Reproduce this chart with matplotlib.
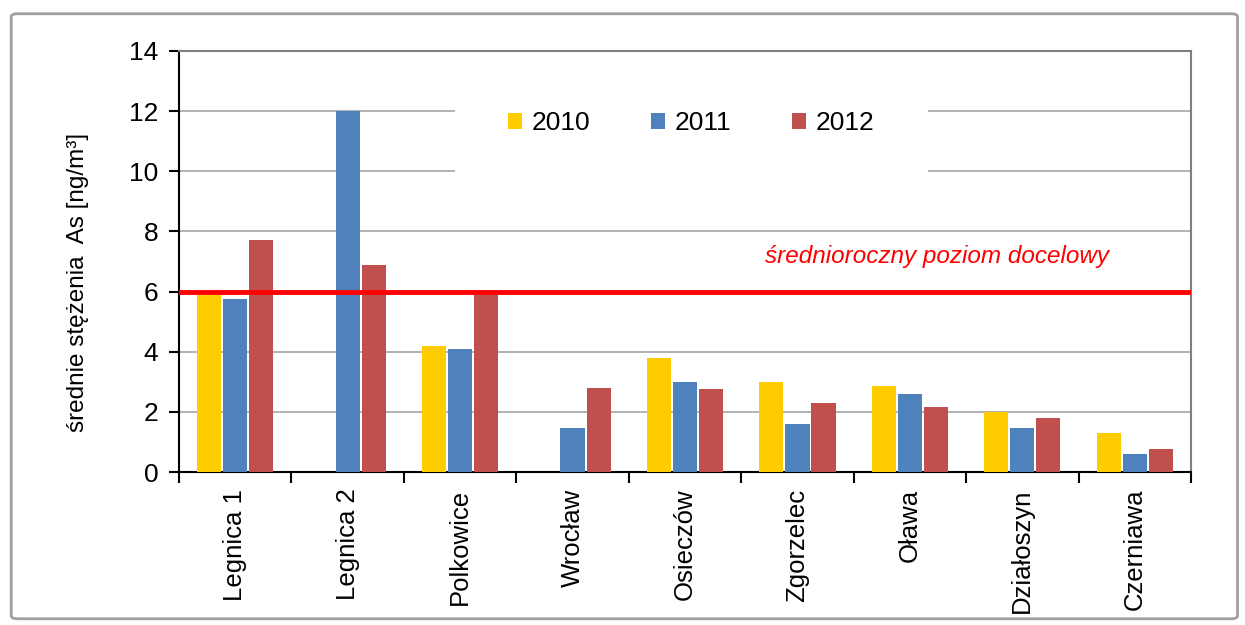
import matplotlib
matplotlib.use('Agg')
import matplotlib.pyplot as plt
import numpy as np
from matplotlib.patches import FancyBboxPatch, Rectangle

plt.rcParams['font.family'] = ['Liberation Sans', 'DejaVu Sans']

# data
stations = ['Legnica 1', 'Legnica 2', 'Polkowice', 'Wrocław', 'Osieczów',
            'Zgorzelec', 'Oława', 'Działoszyn', 'Czerniawa']
years = ['2010', '2011', '2012']
as_2010 = [5.9, np.nan, 4.2, np.nan, 3.8, 3.0, 2.85, 2.0, 1.3]
as_2011 = [5.75, 12.0, 4.1, 1.45, 3.0, 1.6, 2.6, 1.45, 0.6]
as_2012 = [7.7, 6.9, 5.9, 2.8, 2.75, 2.3, 2.15, 1.8, 0.75]
target_level = 6
colors = ['#FFCC00', '#4F81BD', '#C0504D']

fig = plt.figure(figsize=(12.45, 6.25), dpi=100)
# outer frame
frame = FancyBboxPatch((0.009, 0.01), 0.985, 0.968, boxstyle='round,pad=0,rounding_size=0.005',
                       transform=fig.transFigure, facecolor='none', edgecolor='#A0A0A0', lw=2)
fig.patches.append(frame)

ax = fig.add_axes([0.1438, 0.2448, 0.8128, 0.6736])
x = np.arange(len(stations))
w = 0.215
off = 0.232
for i, (vals, c) in enumerate(zip([as_2010, as_2011, as_2012], colors)):
    ax.bar(x + (i - 1) * off, vals, width=w, color=c, label=years[i], zorder=3)

ax.axhline(target_level, color='#FF0000', lw=3.5, zorder=5)
ax.text(0.579, 0.512, 'średnioroczny poziom docelowy', transform=ax.transAxes,
        color='#FF0000', style='italic', fontsize=17.5, va='center', ha='left')

ax.set_xlim(-0.5, len(stations) - 0.5)
ax.set_ylim(0, 14)
ax.set_yticks(np.arange(0, 15, 2))
ax.yaxis.grid(True, color='#A6A6A6', lw=1.2, zorder=0)
ax.set_axisbelow(True)

# white box behind the legend hides the grid
ax.add_patch(Rectangle((0.273, 0.69), 0.467, 0.2, transform=ax.transAxes,
                       facecolor='white', edgecolor='none', zorder=1))
ax.legend(loc='center', bbox_to_anchor=(0.506, 0.828), ncol=3, frameon=False,
          fontsize=19, handlelength=0.55, handleheight=0.55, handletextpad=0.35,
          columnspacing=2.3)

# category ticks between groups, labels at centres
ax.set_xticks(np.arange(-0.5, len(stations), 1))
ax.set_xticklabels([])
ax.set_xticks(x, minor=True)
ax.set_xticklabels(stations, minor=True, rotation=90, fontsize=18.5)
ax.tick_params(axis='x', which='major', length=8, width=1.5, direction='out')
ax.tick_params(axis='x', which='minor', length=0, pad=12)
ax.tick_params(axis='y', length=7, width=1.5, labelsize=19, pad=8)

for s in ['left', 'bottom']:
    ax.spines[s].set_color('black')
    ax.spines[s].set_linewidth(1.5)
for s in ['top', 'right']:
    ax.spines[s].set_color('#808080')
    ax.spines[s].set_linewidth(1.5)

ax.set_ylabel('średnie stężenia  As [ng/m³]', fontsize=17.5)
ax.yaxis.set_label_coords(-0.089, 0.45)

fig.savefig('out.png', dpi=100)
